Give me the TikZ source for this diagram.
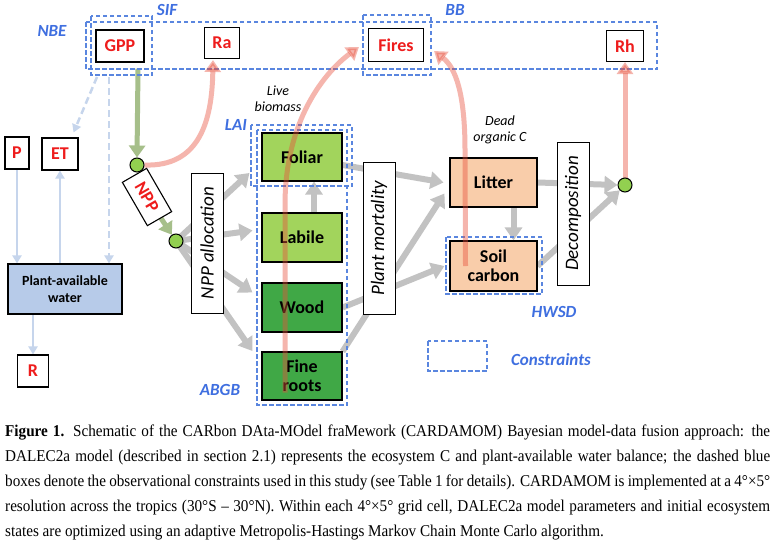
\documentclass[tikz,border=0pt]{standalone}
\usepackage{fontspec}
\setmainfont{Carlito}
\newfontfamily\capfont[FakeStretch=0.92]{Liberation Serif}
\usetikzlibrary{arrows.meta,calc}
\definecolor{cblue}{HTML}{5A86DF}
\definecolor{lblue}{HTML}{3F6FE0}
\definecolor{pinkc}{HTML}{E8503C}
\definecolor{grayc}{HTML}{C2C2C2}
\definecolor{greena}{HTML}{A6BF8A}
\definecolor{wblue}{HTML}{C6D5EC}
\definecolor{leafg}{HTML}{A2D45C}
\definecolor{woodg}{HTML}{40A846}
\definecolor{peach}{HTML}{F9CDAA}
\definecolor{waterb}{HTML}{B7CBE9}
\definecolor{dotg}{HTML}{92D050}
\definecolor{fluxred}{HTML}{EE1C1C}
\pgfdeclarelayer{bg}
\pgfdeclarelayer{front}
\pgfsetlayers{bg,main,front}
\begin{document}
\begin{tikzpicture}[x=1pt,y=-1pt,
 flux/.style={draw=black, line width=1.1pt, fill=white, text=fluxred, font=\fontsize{18}{20}\selectfont\bfseries, inner sep=0pt},
 pool/.style={draw=black, line width=1.1pt, font=\fontsize{18}{19}\selectfont\bfseries, inner sep=0pt, align=center, minimum width=80pt},
 proc/.style={draw=black, line width=1pt, fill=white, inner sep=0pt, rotate=90, minimum height=32pt, font=\fontsize{19}{20}\selectfont\itshape},
 cons/.style={draw=cblue, line width=1.8pt, dash pattern=on 4.5pt off 2.5pt},
 clabel/.style={text=lblue, font=\fontsize{17}{18}\selectfont\bfseries\itshape, inner sep=0pt},
 dot/.style={circle, draw=black, line width=1pt, fill=dotg, minimum size=14pt, inner sep=0pt},
 garrow/.style={draw=grayc, line width=6pt, -{Triangle[length=13pt,width=17pt]}},
 parrow/.style={draw=pinkc, opacity=0.42, line width=5pt, -{Triangle[length=12pt,width=16pt]}},
 grarrow/.style={draw=greena, line width=5pt, -{Triangle[length=12pt,width=16pt]}},
 warrow/.style={draw=wblue, line width=2.5pt, -{Triangle[length=8pt,width=9pt]}},
 wdash/.style={dash pattern=on 7pt off 4pt},
 note/.style={font=\fontsize{14}{16}\selectfont\itshape, align=center, inner sep=0pt}
]
\useasboundingbox (0,0) rectangle (775,546);
\begin{pgfonlayer}{bg}
\fill[white] (0,0) rectangle (775,546);
\end{pgfonlayer}

% flux boxes
\node[flux, minimum width=48pt, minimum height=32pt] (gpp) at (120,46) {GPP};
\node[flux, minimum width=35pt, minimum height=31pt] (ra) at (222,43) {Ra};
\node[flux, minimum width=55pt, minimum height=33pt] (fires) at (396,45) {Fires};
\node[flux, minimum width=37pt, minimum height=31pt] (rh) at (625,46) {Rh};
\node[flux, minimum width=24pt, minimum height=32pt] (p) at (17,153) {P};
\node[flux, minimum width=36pt, minimum height=32pt] (et) at (60,154) {ET};
\node[flux, minimum width=31pt, minimum height=32pt] (r) at (33,371) {R};
\node[draw=black, line width=1.1pt, fill=waterb, minimum width=114pt, minimum height=50pt, inner sep=0pt, align=center, font=\fontsize{14}{17}\selectfont\bfseries] (water) at (65,289) {Plant-available\\water};

% pools
\node[pool, fill=leafg, minimum height=48pt] (fol) at (302,157) {Foliar};
\node[pool, fill=leafg, minimum height=49pt] (lab) at (302,237.5) {Labile};
\node[pool, fill=woodg, minimum height=49pt] (wood) at (302,307.5) {Wood};
\node[pool, fill=woodg, minimum height=48pt] (root) at (302,376) {Fine\\roots};
\node[pool, fill=peach, minimum width=87pt, minimum height=49pt] (lit) at (493.5,182.5) {Litter};
\node[pool, fill=peach, minimum width=87pt, minimum height=50pt] (soil) at (493.5,266) {Soil\\carbon};

% process boxes
\node[proc, minimum width=140pt] (alloc) at (207,243) {NPP allocation};
\node[proc, minimum width=152pt] (mort) at (379,238) {Plant mortality};
\node[proc, minimum width=143pt] (decomp) at (573,213.5) {Decomposition};

% NPP rotated box
\node[flux, rotate=-60, minimum width=50pt, minimum height=28pt] (npp) at (147,197) {NPP};

% dots
\begin{pgfonlayer}{front}
\node[dot] (c1) at (137,165) {};
\node[dot] (c2) at (176,241) {};
\node[dot] (c3) at (625,185) {};
\end{pgfonlayer}

% notes
\node[note] (live) at (278,99) {Live\\biomass};
\node[note] (dead) at (500,130) {Dead\\organic C};

% constraint boxes
\draw[cons] (86,22) rectangle (657,69);
\draw[cons] (91,16) rectangle (152,75);
\draw[cons] (363,15) rectangle (431,75);
\draw[cons] (251,125) rectangle (352,186);
\draw[cons] (257,130) rectangle (347,405);
\draw[cons] (446,237) rectangle (542,294);
\draw[cons] (428,341) rectangle (487,371);

\node[clabel] (nbe) at (52,31) {NBE};
\node[clabel] (sif) at (167,10) {SIF};
\node[clabel] (bb) at (455,10) {BB};
\node[clabel] (lai) at (236,125) {LAI};
\node[clabel] (abgb) at (220,390) {ABGB};
\node[clabel] (hwsd) at (554,312) {HWSD};
\node[clabel] (cons) at (551,360) {Constraints};

\coordinate (sifb) at (109,77);
\coordinate (sifc) at (97,77);

% background arrows
\begin{pgfonlayer}{bg}
\draw[warrow] (p.south) -- (p.south |- water.north);
\draw[warrow] (et.south |- water.north) -- (et.south);
\draw[warrow, wdash] (sifb) -- (sifb |- water.north);
\draw[warrow, wdash] (sifc) -- ([xshift=-5pt,yshift=5pt]et.north east);
\draw[warrow] (r.north |- water.south) -- (r.north);

\draw[grarrow] ([xshift=18pt,yshift=-6pt]gpp.south) -- (c1.north);
\draw[grarrow] (npp.center) -- (c2);

\draw[garrow] (c2.center) -- ([xshift=-12pt,yshift=-16pt]fol.west);
\draw[garrow] (c2.center) -- ([xshift=-9pt,yshift=7pt]lab.west);
\draw[garrow] (c2.center) -- ([xshift=-9pt,yshift=15pt]wood.west);
\draw[garrow] (c2.center) -- ([xshift=-9pt,yshift=25pt]root.west);
\draw[garrow] ([xshift=12pt]lab.north) -- ([xshift=12pt]fol.south);
\draw[garrow] ([yshift=-8pt]fol.east) -- ([xshift=-6pt]lit.west);
\draw[garrow] (root.north east) -- ([xshift=-5pt,yshift=-11pt]lit.west);
\draw[garrow] (wood.east) -- ([xshift=-5pt]soil.west);
\draw[garrow] ([xshift=20pt]lit.south) -- ([xshift=20pt]soil.north);
\draw[garrow] (lit.east) -- (c3.west);
\draw[garrow] (soil.east) -- (c3.south west);
\end{pgfonlayer}

% pink arrows
\draw[parrow] (c1.east) .. controls (200,167) and (212,120) .. ([xshift=-9pt,yshift=-1pt]ra.south);
\draw[parrow] ([xshift=-17pt,yshift=8pt]root.south) -- (285,205) .. controls (285,120) and (325,72) .. ([xshift=-9pt,yshift=-2pt]fires.west);
\draw[parrow] ([xshift=-28pt]soil.center) -- (465,150) .. controls (465,95) and (456,68) .. ([xshift=10pt,yshift=-6pt]fires.east);
\draw[parrow] (c3.north) -- (rh.south);

% caption
\node[anchor=base west, text width=765pt, align=justify, inner sep=0pt, font=\capfont\fontsize{16.5}{25}\selectfont] (cap) at (5,436) {\textbf{Figure 1.} Schematic of the CARbon DAta-MOdel fraMework (CARDAMOM) Bayesian model-data fusion approach: the\linebreak DALEC2a model (described in section 2.1) represents the ecosystem C and plant-available water balance; the dashed blue\linebreak boxes denote the observational constraints used in this study (see Table 1 for details). CARDAMOM is implemented at a 4°×5°\linebreak resolution across the tropics (30°S – 30°N). Within each 4°×5° grid cell, DALEC2a model parameters and initial ecosystem\linebreak states are optimized using an adaptive Metropolis-Hastings Markov Chain Monte Carlo algorithm.};
\end{tikzpicture}
\end{document}
